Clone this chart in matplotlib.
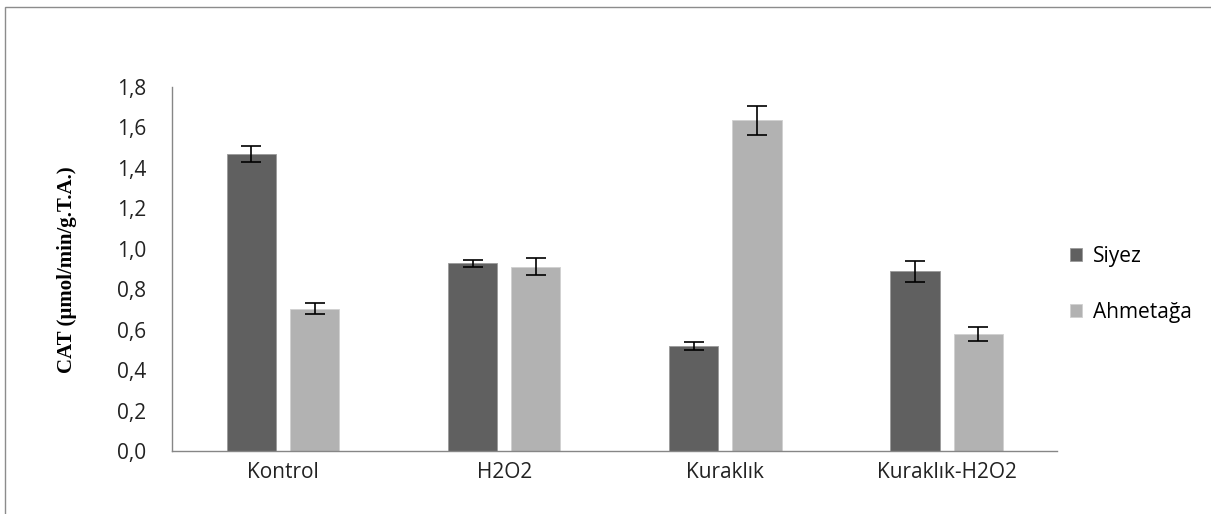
import numpy as np
import matplotlib.pyplot as plt
from matplotlib.patches import Rectangle

categories = ["Kontrol", "H2O2", "Kuraklık", "Kuraklık-H2O2"]
siyez = [1.467, 0.928, 0.519, 0.889]
siyez_err = [0.040, 0.016, 0.022, 0.053]
ahmetaga = [0.704, 0.911, 1.635, 0.579]
ahmetaga_err = [0.028, 0.043, 0.070, 0.034]
yticks = [0.0, 0.2, 0.4, 0.6, 0.8, 1.0, 1.2, 1.4, 1.6, 1.8]
ytick_labels = ["0,0", "0,2", "0,4", "0,6", "0,8", "1,0", "1,2", "1,4", "1,6", "1,8"]

plt.rcParams["font.family"] = ["Open Sans", "DejaVu Sans"]

fig = plt.figure(figsize=(12.11, 5.14), dpi=100)
# outer chart-area border (only top and left are visible in the reference)
fig.patches.append(Rectangle((5 / 1211, -0.1), 1.2, (514 - 7) / 514 + 0.1,
                             transform=fig.transFigure, fill=False,
                             edgecolor="#8c8c8c", lw=1.0))

ax = fig.add_axes([0.1424, 0.1226, 0.7306, 0.7081])
x = np.arange(len(categories))
w = 0.222
off = 0.143
ekw = dict(ecolor="black", elinewidth=1.2, capsize=7, capthick=1.2)
ax.bar(x - off, siyez, w, yerr=siyez_err, color="#606060", edgecolor="#9a9a9a",
       lw=0.6, label="Siyez", error_kw=ekw)
ax.bar(x + off, ahmetaga, w, yerr=ahmetaga_err, color="#b2b2b2", edgecolor="#d0d0d0",
       lw=0.6, label="Ahmetağa", error_kw=ekw)

ax.set_xlim(-0.5, len(categories) - 0.5)
ax.set_ylim(0, 1.8)
ax.set_yticks(yticks)
ax.set_yticklabels(ytick_labels)
ax.set_xticks(x)
ax.set_xticklabels(categories)
ax.tick_params(axis="both", length=0, labelsize=15, colors="#222222")
ax.tick_params(axis="y", pad=19)
ax.tick_params(axis="x", pad=8)
for s in ["top", "right"]:
    ax.spines[s].set_visible(False)
for s in ["left", "bottom"]:
    ax.spines[s].set_color("#868686")
    ax.spines[s].set_linewidth(1.0)

fig.text(67 / 1211, 1 - 270 / 514, "CAT (µmol/min/g.T.A.)", rotation=90,
         ha="center", va="center", fontsize=15, fontweight="bold",
         family=["Liberation Serif", "DejaVu Serif"])

ax.legend(loc="center left", bbox_to_anchor=(0.993, 0.458), frameon=False,
          fontsize=15, handlelength=0.6, handleheight=0.6, labelspacing=1.7,
          handletextpad=0.5)

fig.savefig("out.png", dpi=100, facecolor="white")
